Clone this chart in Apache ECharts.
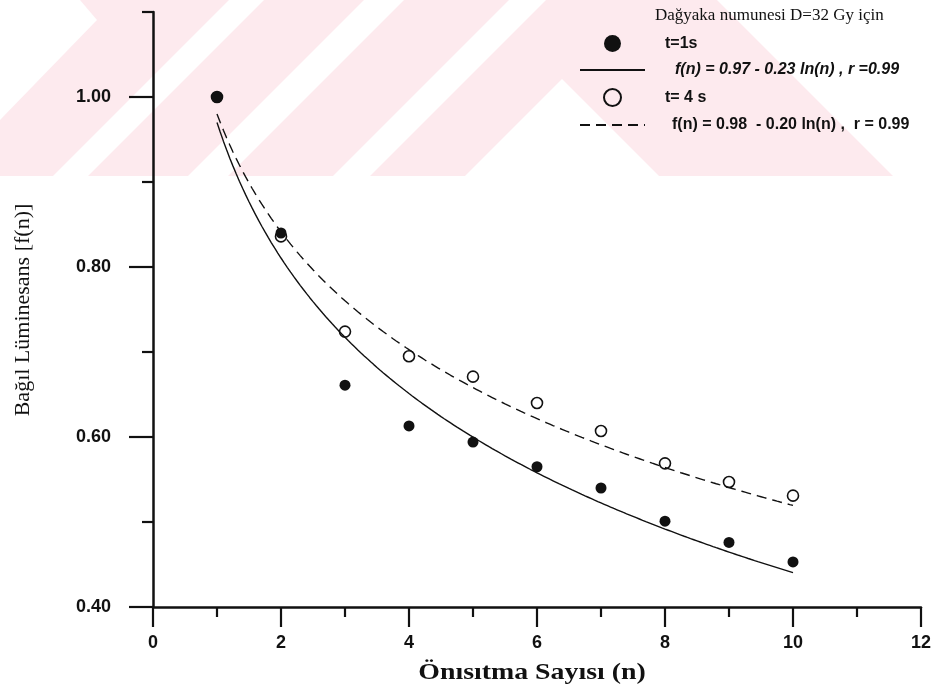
<!DOCTYPE html>
<html>
<head>
<meta charset="utf-8">
<script src="https://cdn.jsdelivr.net/npm/echarts@6/dist/echarts.min.js"></script>
<style>
  html, body { margin: 0; padding: 0; background: #fff; }
  #chart { width: 944px; height: 690px; }
</style>
</head>
<body>
<div id="chart"></div>
<script>
// Number of preheats n and the relative luminescence measured after each
const preheatCounts = [1, 2, 3, 4, 5, 6, 7, 8, 9, 10];
const lum1s = [1.00, 0.840, 0.661, 0.613, 0.594, 0.565, 0.540, 0.501, 0.476, 0.453];
const lum4s = [1.00, 0.836, 0.724, 0.695, 0.671, 0.640, 0.607, 0.569, 0.547, 0.531];

// Logarithmic fits f(n) = a - b ln(n), coefficients as given in the legend
const fit1s = [0.97, 0.23];
const fit4s = [0.98, 0.20];
const fitRange = [1, 10];

// Axis ticks
const xMajorTicks = [0, 2, 4, 6, 8, 10, 12];
const xMinorTicks = [1, 3, 5, 7, 9, 11];
const yMajorTicks = [0.40, 0.60, 0.80, 1.00];
const yMinorTicks = [0.50, 0.70, 0.90, 1.10];

// Texts
const legendTitle = 'Dağyaka numunesi D=32 Gy için';
const seriesNames = [
  't=1s',
  'f(n) = 0.97 - 0.23 ln(n) , r =0.99',
  't= 4 s',
  'f(n) = 0.98  - 0.20 ln(n) ,  r = 0.99'
];
const xTitle = 'Önısıtma Sayısı (n)';
const yTitle = 'Bağıl Lüminesans [f(n)]';

function fitCurve(coef) {
  const pts = [];
  const steps = 180;
  for (let i = 0; i <= steps; i++) {
    const n = fitRange[0] + (fitRange[1] - fitRange[0]) * i / steps;
    pts.push([n, coef[0] - coef[1] * Math.log(n)]);
  }
  return pts;
}

const ink = '#111';
const tickFont = { fontFamily: '"Liberation Sans", Arial, sans-serif', fontSize: 18, fontWeight: 'bold', color: ink };

function makeAxis(kind, min, max, ticks, len, withLabels, pos) {
  return {
    type: 'value', min: min, max: max, position: pos,
    axisLine: { show: withLabels, onZero: false, lineStyle: { color: ink, width: 2.5 } },
    axisTick: { show: true, length: len, customValues: ticks, lineStyle: { color: ink, width: 2.2 } },
    axisLabel: withLabels ? Object.assign({
      show: true, customValues: ticks,
      margin: kind === 'x' ? 27 : 42,
      formatter: kind === 'x' ? (v => String(v)) : (v => v.toFixed(2))
    }, tickFont) : { show: false },
    splitLine: { show: false },
    minorTick: { show: false }
  };
}

// Light diagonal watermark bands across the top of the page
const pink = '#fdeaee';
const bg = [
  { type: 'rect', shape: { x: 0, y: 0, width: 944, height: 176 }, style: { fill: pink } },
  { type: 'polygon', shape: { points: [[0, 0], [80, 0], [97, 20], [0, 120]] }, style: { fill: '#fff' } },
  { type: 'polygon', shape: { points: [[53, 176], [88, 176], [264, 0], [229, 0]] }, style: { fill: '#fff' } },
  { type: 'polygon', shape: { points: [[188, 176], [228, 176], [404, 0], [364, 0]] }, style: { fill: '#fff' } },
  { type: 'polygon', shape: { points: [[333, 176], [370, 176], [546, 0], [509, 0]] }, style: { fill: '#fff' } },
  { type: 'polygon', shape: { points: [[562, 79], [465, 176], [659, 176]] }, style: { fill: '#fff' } },
  { type: 'polygon', shape: { points: [[717, 0], [944, 0], [944, 176], [893, 176]] }, style: { fill: '#fff' } }
].map(e => Object.assign(e, { z: -100, silent: true }));

const titles = [
  {
    type: 'text', x: 23, y: 310, rotation: Math.PI / 2, z: 10,
    style: {
      text: yTitle, fill: ink,
      font: '22px "Liberation Serif", "Times New Roman", serif',
      textAlign: 'center', textVerticalAlign: 'middle', align: 'center', verticalAlign: 'middle'
    }
  },
  {
    type: 'text', x: 532, y: 673, scaleX: 1.16, z: 10,
    style: {
      text: xTitle, fill: ink,
      font: 'bold 24px "Liberation Serif", "Times New Roman", serif',
      textAlign: 'center', textVerticalAlign: 'middle', align: 'center', verticalAlign: 'middle'
    }
  }
];

const chart = echarts.init(document.getElementById('chart'), null, { renderer: 'canvas' });
chart.setOption({
  animation: false,
  backgroundColor: '#fff',
  title: {
    text: legendTitle, left: 650, top: 2,
    textStyle: { fontFamily: '"Liberation Serif", "Times New Roman", serif', fontSize: 17, fontWeight: 'normal', color: ink }
  },
  grid: { left: 153, top: 12, width: 768, height: 595 },
  xAxis: [
    makeAxis('x', 0, 12, xMajorTicks, 20, true, 'bottom'),
    makeAxis('x', 0, 12, xMinorTicks, 10, false, 'bottom')
  ],
  yAxis: [
    makeAxis('y', 0.4, 1.1, yMajorTicks, 24, true, 'left'),
    makeAxis('y', 0.4, 1.1, yMinorTicks, 11, false, 'left')
  ],
  legend: {
    orient: 'vertical', left: 574, top: 30,
    itemWidth: 65, itemHeight: 17, itemGap: 10,
    selectedMode: false,
    textStyle: { fontFamily: '"Liberation Sans", Arial, sans-serif', fontWeight: 'bold', fontSize: 16, color: ink },
    data: [
      { name: seriesNames[0], icon: 'circle', textStyle: { padding: [0, 0, 0, 15] } },
      { name: seriesNames[1], itemStyle: { opacity: 0 }, textStyle: { fontStyle: 'italic', padding: [0, 0, 0, 25] } },
      { name: seriesNames[2], icon: 'circle', textStyle: { padding: [0, 0, 0, 15] } },
      { name: seriesNames[3], itemStyle: { opacity: 0 }, textStyle: { padding: [0, 0, 0, 22] } }
    ]
  },
  graphic: { elements: bg.concat(titles) },
  series: [
    {
      name: seriesNames[1], type: 'line', data: fitCurve(fit1s),
      symbol: 'none', showSymbol: false, smooth: false,
      itemStyle: { color: ink }, lineStyle: { color: ink, width: 1.4 }, z: 2
    },
    {
      name: seriesNames[3], type: 'line', data: fitCurve(fit4s),
      symbol: 'none', showSymbol: false, smooth: false,
      itemStyle: { color: ink }, lineStyle: { color: ink, width: 1.4, type: [10, 6] }, z: 2
    },
    {
      name: seriesNames[2], type: 'scatter',
      data: preheatCounts.map((n, i) => [n, lum4s[i]]),
      symbol: 'circle', symbolSize: 11,
      itemStyle: { color: 'rgba(255,255,255,0)', borderColor: ink, borderWidth: 1.6, opacity: 1 }, z: 3
    },
    {
      name: seriesNames[0], type: 'scatter',
      data: preheatCounts.map((n, i) => [n, lum1s[i]]),
      symbol: 'circle', symbolSize: 11,
      itemStyle: { color: ink, opacity: 1 }, z: 4
    }
  ]
});
</script>
</body>
</html>
